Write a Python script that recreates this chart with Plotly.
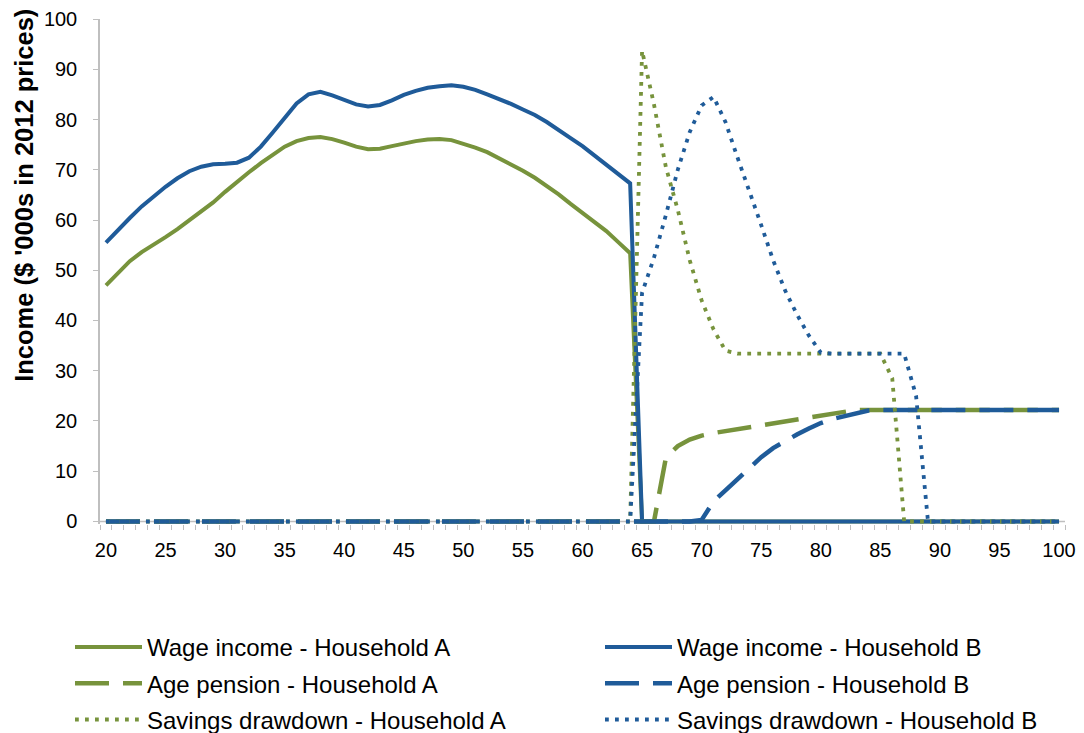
import plotly.graph_objects as go

# ---------------- data ----------------
ages = list(range(20, 101))

wage_a = [47.0, 49.5, 51.8, 53.6, 55.0, 56.6, 58.2, 59.9, 61.6, 63.5,
          65.6, 67.6, 69.5, 71.3, 73.0, 74.6, 75.7, 76.3, 76.5, 76.1,
          75.4, 74.6, 74.1, 74.2, 74.7, 75.3, 75.7, 76.0, 76.1, 75.9,
          75.2, 74.4, 73.5, 72.3, 71.1, 69.8, 68.4, 66.8, 65.1, 63.2,
          61.4, 59.6, 57.8, 55.6, 53.4,
          0, 0, 0, 0, 0, 0, 0, 0, 0, 0, 0, 0, 0, 0, 0, 0, 0, 0,
          0, 0, 0, 0, 0, 0, 0, 0, 0, 0, 0, 0, 0, 0, 0, 0, 0, 0]

wage_b = [55.5, 58.0, 60.4, 62.7, 64.7, 66.6, 68.3, 69.7, 70.6, 71.1,
          71.2, 71.4, 72.4, 74.6, 77.4, 80.2, 83.2, 85.0, 85.5, 84.8,
          83.9, 83.0, 82.6, 82.9, 83.8, 84.9, 85.7, 86.3, 86.6, 86.8,
          86.5, 85.9, 85.0, 84.1, 83.1, 82.0, 80.9, 79.5, 78.0, 76.3,
          74.7, 72.8, 71.0, 69.2, 67.3,
          0, 0, 0, 0, 0, 0, 0, 0, 0, 0, 0, 0, 0, 0, 0, 0, 0, 0,
          0, 0, 0, 0, 0, 0, 0, 0, 0, 0, 0, 0, 0, 0, 0, 0, 0, 0]

pension_a = [0, 0, 0, 0, 0, 0, 0, 0, 0, 0,
             0, 0, 0, 0, 0, 0, 0, 0, 0, 0,
             0, 0, 0, 0, 0, 0, 0, 0, 0, 0,
             0, 0, 0, 0, 0, 0, 0, 0, 0, 0,
             0, 0, 0, 0, 0, 0, 0,
             12.7, 15.0, 16.3, 17.1, 17.6, 18.0, 18.4, 18.7, 19.1, 19.5,
             19.9, 20.3, 20.7, 21.1, 21.5, 22.0, 22.2,
             22.2, 22.2, 22.2, 22.2, 22.2, 22.2, 22.2, 22.2, 22.2,
             22.2, 22.2, 22.2, 22.2, 22.2, 22.2, 22.2, 22.2]

pension_b = [0, 0, 0, 0, 0, 0, 0, 0, 0, 0,
             0, 0, 0, 0, 0, 0, 0, 0, 0, 0,
             0, 0, 0, 0, 0, 0, 0, 0, 0, 0,
             0, 0, 0, 0, 0, 0, 0, 0, 0, 0,
             0, 0, 0, 0, 0, 0, 0, 0, 0, 0,
             0.3, 4.0, 6.2, 8.5, 10.8, 12.8, 14.6, 16.0, 17.3, 18.5,
             19.6, 20.4, 21.0, 21.6, 22.1,
             22.2, 22.2, 22.2, 22.2, 22.2, 22.2, 22.2, 22.2,
             22.2, 22.2, 22.2, 22.2, 22.2, 22.2, 22.2, 22.2]

savings_a = [0, 0, 0, 0, 0, 0, 0, 0, 0, 0,
             0, 0, 0, 0, 0, 0, 0, 0, 0, 0,
             0, 0, 0, 0, 0, 0, 0, 0, 0, 0,
             0, 0, 0, 0, 0, 0, 0, 0, 0, 0,
             0, 0, 0, 0, 0,
             93.7, 83.0, 70.5, 62.0, 52.0, 44.0, 38.2, 34.0, 33.4,
             33.4, 33.4, 33.4, 33.4, 33.4, 33.4, 33.4, 33.4, 33.4, 33.4, 33.4, 33.4,
             28.5, 0,
             0, 0, 0, 0, 0, 0, 0, 0, 0, 0, 0, 0, 0]

savings_b = [0, 0, 0, 0, 0, 0, 0, 0, 0, 0,
             0, 0, 0, 0, 0, 0, 0, 0, 0, 0,
             0, 0, 0, 0, 0, 0, 0, 0, 0, 0,
             0, 0, 0, 0, 0, 0, 0, 0, 0, 0,
             0, 0, 0, 0, 0,
             45.5, 52.5, 61.0, 70.0, 77.5, 82.8, 84.5, 79.5, 72.5, 66.0,
             59.0, 52.0, 46.0, 41.2, 37.0, 33.6,
             33.4, 33.4, 33.4, 33.4, 33.4, 33.4, 33.4,
             25.0, 0,
             0, 0, 0, 0, 0, 0, 0, 0, 0, 0, 0]

x_tick_labels = [20, 25, 30, 35, 40, 45, 50, 55, 60, 65, 70, 75, 80, 85, 90, 95, 100]
y_tick_labels = [0, 10, 20, 30, 40, 50, 60, 70, 80, 90, 100]

# ---------------- styling ----------------
GREEN = '#77933C'
BLUE = '#1F5B99'
AXIS = '#BFBFBF'
FONT = 'Liberation Sans, Arial, sans-serif'

SOLID = 'solid'
DASH = '34px,14px'
DOT = '3.8px,6.2px'

traces = [
    ("Wage income - Household A", wage_a, GREEN, SOLID, 4.0, 'legend'),
    ("Wage income - Household B", wage_b, BLUE, SOLID, 4.0, 'legend2'),
    ("Age pension - Household A", pension_a, GREEN, DASH, 4.5, 'legend'),
    ("Age pension - Household B", pension_b, BLUE, DASH, 4.5, 'legend2'),
    ("Savings drawdown - Household A", savings_a, GREEN, DOT, 3.8, 'legend'),
    ("Savings drawdown - Household B", savings_b, BLUE, DOT, 3.8, 'legend2'),
]

fig = go.Figure()
for name, vals, col, dash, w, leg in traces:
    fig.add_trace(go.Scatter(
        x=ages, y=vals, name=name, mode='lines',
        line=dict(color=col, width=w, dash=dash),
        legend=leg, legendgroup=name,
    ))

# page has an 8px body margin, so the figure is drawn 8px smaller
W, H = 1076, 725
ITEMW = 67
legend_common = dict(
    xref='container', yref='container', xanchor='left', yanchor='top',
    orientation='v', font=dict(family=FONT, size=24, color='#000000'),
    bgcolor='rgba(0,0,0,0)', tracegroupgap=2, traceorder='grouped',
    itemwidth=ITEMW,
)
text_off = ITEMW + 10 + 1

fig.update_layout(
    width=W, height=H,
    margin=dict(l=92, r=19, t=11, b=208.5, autoexpand=False),
    paper_bgcolor='white', plot_bgcolor='white',
    font=dict(family=FONT, color='#000000'),
    showlegend=True,
    legend=dict(x=(140 - text_off) / W, y=1 - 617 / H, **legend_common),
    legend2=dict(x=(670 - text_off) / W, y=1 - 617 / H, **legend_common),
    xaxis=dict(
        range=[19.5, 100.5], tickmode='array', tickvals=x_tick_labels,
        ticktext=[str(v) for v in x_tick_labels],
        ticks='', showgrid=False, zeroline=False,
        showline=False,
        tickfont=dict(family=FONT, size=20, color='#000000'),
        ticklabelstandoff=12,
        minor=dict(tickmode='linear', tick0=19.5, dtick=1, ticks='outside',
                   ticklen=5, tickcolor=AXIS, tickwidth=1.3, showgrid=False),
    ),
    yaxis=dict(
        range=[-0.5, 100], tickmode='array', tickvals=y_tick_labels,
        ticks='outside', ticklen=5, tickcolor=AXIS, tickwidth=1.3,
        showgrid=False, zeroline=False,
        showline=True, linecolor=AXIS, linewidth=1.5,
        tickfont=dict(family=FONT, size=20, color='#000000'),
        ticklabelstandoff=12,
    ),
    shapes=[dict(type='line', xref='paper', yref='y', x0=0, x1=1, y0=0, y1=0,
                 line=dict(color=AXIS, width=1.5), layer='below')],
    annotations=[dict(
        text="<b>Income ($ '000s in 2012 prices)</b>",
        xref='paper', yref='paper', x=(16 - 92) / 965, y=(516.5 - 188) / 505.5,
        xanchor='center', yanchor='middle', textangle=-90, showarrow=False,
        font=dict(family=FONT, size=25.5, color='#000000'),
    )],
)

fig.write_html("out.html")
